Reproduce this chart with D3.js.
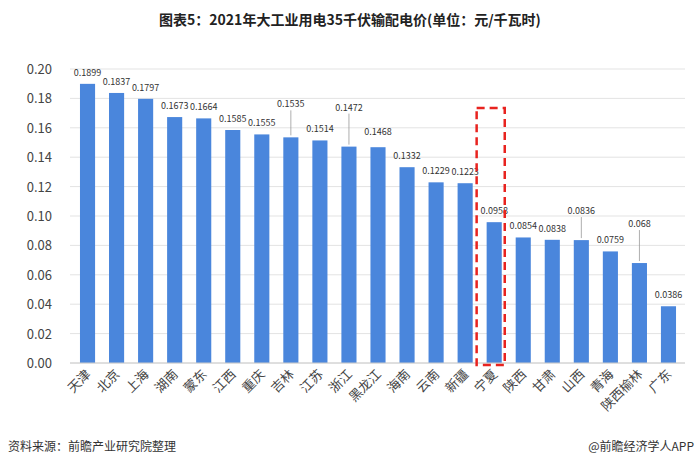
<!DOCTYPE html>
<html><head><meta charset="utf-8">
<script src="https://cdn.jsdelivr.net/npm/d3@7"></script>
<style>body{margin:0;background:#fff;font-family:"Noto Sans CJK SC","Noto Sans",sans-serif}</style>
</head><body><svg id="chart" width="700" height="468"></svg>
<script>
const provinces = ['天津','北京','上海','湖南','蒙东','江西','重庆','吉林','江苏','浙江','黑龙江','海南','云南','新疆','宁夏','陕西','甘肃','山西','青海','陕西榆林','广东'];
const prices = [0.1899,0.1837,0.1797,0.1673,0.1664,0.1585,0.1555,0.1535,0.1514,0.1472,0.1468,0.1332,0.1229,0.1223,0.0958,0.0854,0.0838,0.0836,0.0759,0.068,0.0386];
const priceLabels = ['0.1899','0.1837','0.1797','0.1673','0.1664','0.1585','0.1555','0.1535','0.1514','0.1472','0.1468','0.1332','0.1229','0.1223','0.0958','0.0854','0.0838','0.0836','0.0759','0.068','0.0386'];
// labels lifted with a leader line: index -> extra offset
const lifted = {7: 22, 9: 28, 17: 18, 19: 28, 10: 4};
const yTicks = [0,0.02,0.04,0.06,0.08,0.10,0.12,0.14,0.16,0.18,0.20];

const svg = d3.select('#chart');
const x = d3.scaleBand().domain(provinces).range([73, 683]).paddingInner(0.48).paddingOuter(0.24);
const y = d3.scaleLinear().domain([0, 0.2]).range([363, 69]);

svg.append('text').attr('x', 350).attr('y', 25).attr('text-anchor', 'middle')
  .attr('font-size', 14).attr('font-weight', 'bold').attr('fill', '#222')
  .text('图表5：2021年大工业用电35千伏输配电价(单位：元/千瓦时)');

svg.append('g').selectAll('line').data(yTicks).join('line')
  .attr('x1', 70).attr('x2', 685).attr('y1', d => y(d)).attr('y2', d => y(d))
  .attr('stroke', '#e3e3e3');

svg.append('g').selectAll('text').data(yTicks).join('text')
  .attr('x', 52).attr('y', d => y(d) + 5).attr('text-anchor', 'end')
  .attr('font-size', 13).attr('fill', '#444').text(d => d.toFixed(2));

svg.append('g').selectAll('rect').data(prices).join('rect')
  .attr('x', (d, i) => x(provinces[i])).attr('width', x.bandwidth())
  .attr('y', d => y(d)).attr('height', d => y(0) - y(d)).attr('fill', '#4a86dc');

const lab = svg.append('g');
prices.forEach((d, i) => {
  const cx = x(provinces[i]) + x.bandwidth() / 2;
  const off = lifted[i] || 0;
  const ly = y(d) - 8 - off;
  if (off > 10) {
    lab.append('line').attr('x1', cx).attr('x2', cx).attr('y1', ly + 3).attr('y2', y(d) - 2)
      .attr('stroke', '#999').attr('stroke-width', 0.8);
  }
  lab.append('text').attr('x', cx).attr('y', ly).attr('text-anchor', 'middle')
    .attr('font-size', 9).attr('fill', '#333').text(priceLabels[i]);
});

svg.append('line').attr('x1', 70).attr('x2', 685).attr('y1', y(0)).attr('y2', y(0)).attr('stroke', '#ccc');

svg.append('g').selectAll('text').data(provinces).join('text')
  .attr('transform', d => `translate(${x(d) + x.bandwidth() / 2 + 4},${y(0) + 12}) rotate(-45)`)
  .attr('text-anchor', 'end').attr('font-size', 13).attr('fill', '#444').text(d => d);

// highlight box around 宁夏
const nx = x('宁夏');
svg.append('rect').attr('x', nx - 10).attr('y', 108).attr('width', x.bandwidth() + 13).attr('height', 257)
  .attr('fill', 'none').attr('stroke', '#e8231f').attr('stroke-width', 2.5).attr('stroke-dasharray', '8,5');

svg.append('text').attr('x', 8).attr('y', 451).attr('font-size', 12).attr('fill', '#333').text('资料来源：前瞻产业研究院整理');
svg.append('text').attr('x', 694).attr('y', 451).attr('text-anchor', 'end').attr('font-size', 12).attr('fill', '#333').text('@前瞻经济学人APP');
</script></body></html>
